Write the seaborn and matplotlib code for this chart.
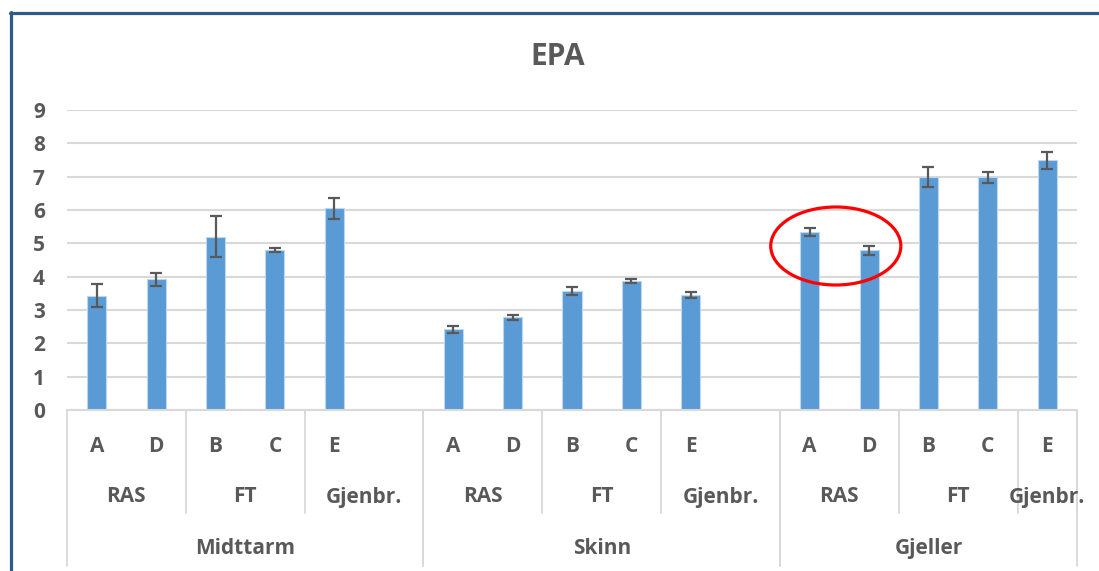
import matplotlib
matplotlib.use("Agg")
import matplotlib.pyplot as plt
import seaborn as sns
import pandas as pd
from matplotlib.patches import Ellipse
from matplotlib.lines import Line2D

# ---------------- data ----------------
organs = ["Midttarm", "Skinn", "Gjeller"]
systems = ["RAS", "FT", "Gjenbr."]
organ = ["Midttarm"] * 5 + ["Skinn"] * 5 + ["Gjeller"] * 5
system = ["RAS", "RAS", "FT", "FT", "Gjenbr."] * 3
group = ["A", "D", "B", "C", "E"] * 3
epa = [3.43, 3.92, 5.20, 4.80, 6.05,
       2.42, 2.78, 3.58, 3.87, 3.45,
       5.34, 4.79, 6.99, 6.98, 7.49]
err = [0.35, 0.20, 0.61, 0.07, 0.31,
       0.10, 0.07, 0.12, 0.07, 0.10,
       0.13, 0.14, 0.30, 0.16, 0.25]
# empty category slots Excel leaves after "Gjenbr." in each organ
extra_blank = {"Midttarm": 1, "Skinn": 1, "Gjeller": 0}

df = pd.DataFrame({"organ": organ, "system": system, "group": group,
                   "EPA": epa, "err": err})
df["key"] = df.organ + "|" + df.system + "|" + df.group

order, slot_organ, slot_system, slot_group = [], [], [], []
for o in organs:
    for s in systems:
        sub = df[(df.organ == o) & (df.system == s)]
        for _, r in sub.iterrows():
            order.append(r.key); slot_organ.append(o); slot_system.append(s); slot_group.append(r.group)
        if s == "Gjenbr.":
            for i in range(extra_blank[o]):
                order.append(f"{o}|{s}|_blank{i}")
                slot_organ.append(o); slot_system.append(s); slot_group.append("")

# ---------------- style ----------------
sns.set_theme(style="white")
plt.rcParams['font.family'] = ['Open Sans', 'DejaVu Sans']
GREY = "#595959"
LINE = "#D9D9D9"

fig = plt.figure(figsize=(10.99, 5.71), dpi=100)
W, H = 1099, 571
ax = fig.add_axes([67 / W, 1 - 410 / H, 1010 / W, 300 / H])

sns.barplot(data=df, x="key", y="EPA", order=order, color="#5B9BD5",
            saturation=1, width=0.32, errorbar=None,
            edgecolor="#BDD7EE", linewidth=0.8, ax=ax, zorder=2)
pos = [order.index(k) for k in df.key]
ax.errorbar(pos, df.EPA, yerr=df.err, fmt="none", ecolor=GREY,
            elinewidth=1.6, capsize=4.3, capthick=1.6, zorder=3)

ax.set_xlim(-0.5, len(order) - 0.5)
ax.set_ylim(0, 9)
ax.set_yticks(range(10))
ax.yaxis.grid(True, color=LINE, lw=1.5)
ax.set_axisbelow(True)
for s in ["left", "top", "right"]:
    ax.spines[s].set_visible(False)
ax.spines["bottom"].set_color(LINE)
ax.spines["bottom"].set_linewidth(1.5)
ax.set_xticks([])
ax.set_xlabel("")
ax.set_ylabel("")
ax.tick_params(axis="y", length=0, pad=16, labelsize=15, labelcolor=GREY)
for lbl in ax.get_yticklabels():
    lbl.set_fontweight("bold")

# ---------------- multi-level category axis ----------------
tr = ax.get_xaxis_transform()
y1, y2, y3 = -0.123, -0.29, -0.462
bot2, bot3 = -0.343, -0.52
txt = dict(ha="center", va="center", fontsize=15, fontweight="bold",
           color=GREY, transform=tr, clip_on=False)

for i, g in enumerate(slot_group):
    if g:
        ax.text(i, y1, g, **txt)

def sep(x, bottom):
    ax.plot([x, x], [0, bottom], color=LINE, lw=1.3, transform=tr, clip_on=False)

# level 2 (system) groups
for o in organs:
    for s in systems:
        idx = [i for i in range(len(order)) if slot_organ[i] == o and slot_system[i] == s]
        lo, hi = min(idx), max(idx)
        ax.text((lo + hi) / 2, y2, s, **txt)
        sep(hi + 0.5, bot2)
    idx = [i for i in range(len(order)) if slot_organ[i] == o]
    lo, hi = min(idx), max(idx)
    ax.text((lo + hi) / 2, y3, o, **txt)
    sep(lo - 0.5, bot3)
    sep(hi + 0.5, bot3)

# ---------------- annotation ellipse ----------------
ax.add_patch(Ellipse((12.44, 4.92), 2.19, 2.34, fill=False,
                     edgecolor="#FF0000", lw=2.3, zorder=4, clip_on=False))

# ---------------- title & frame ----------------
fig.text(558 / W, 1 - 57 / H, "EPA", ha="center", va="center",
         fontsize=21.5, fontweight="bold", color=GREY)
BORDER = "#2E5A8E"
fig.add_artist(Line2D([10 / W, 1], [1 - 13 / H] * 2, color=BORDER, lw=2.3))
fig.add_artist(Line2D([11 / W] * 2, [0, 1 - 12 / H], color=BORDER, lw=2.3))

fig.savefig("out.png", dpi=100, facecolor="white")
